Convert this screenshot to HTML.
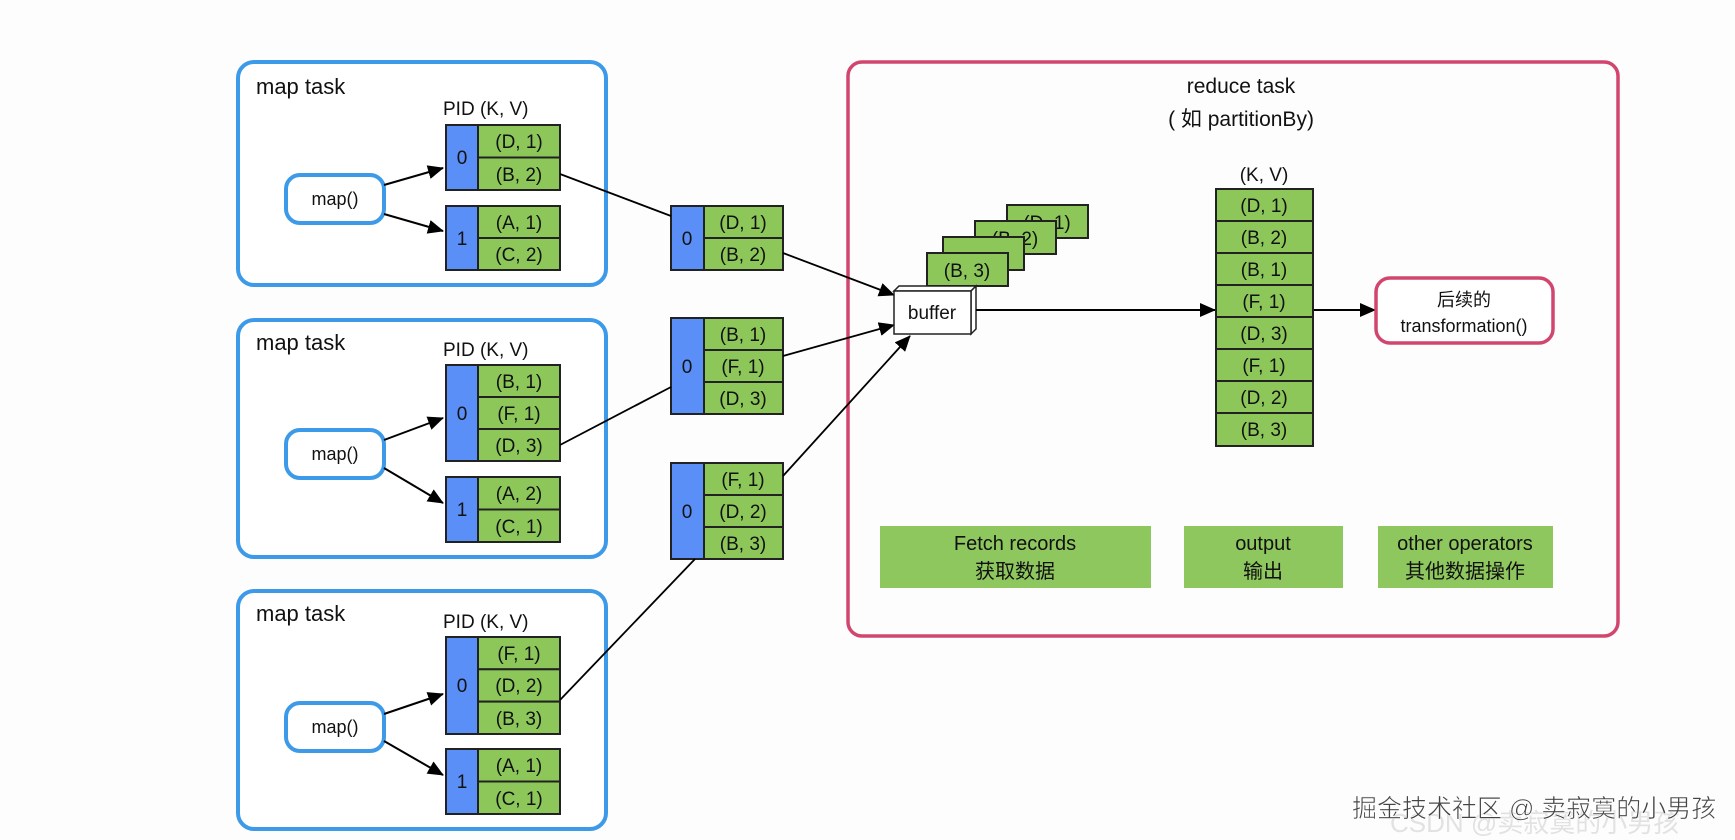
<!DOCTYPE html>
<html><head><meta charset="utf-8"><style>
html,body{margin:0;padding:0;background:#fdfdfd;}
svg{display:block;}
text{font-family:"Liberation Sans","Noto Sans CJK SC",sans-serif;fill:#111;}
</style></head><body>
<svg width="1735" height="840" viewBox="0 0 1735 840" xmlns="http://www.w3.org/2000/svg">
<defs>
<marker id="ah" markerWidth="10" markerHeight="10" refX="9" refY="5" orient="auto" markerUnits="userSpaceOnUse" viewBox="0 0 10 10">
<path d="M0,0 L10,5 L0,10 z" fill="#000"/></marker>
<marker id="ah2" markerWidth="16" markerHeight="14" refX="15" refY="7" orient="auto" markerUnits="userSpaceOnUse" viewBox="0 0 16 14">
<path d="M0,0 L16,7 L0,14 z" fill="#000"/></marker>
</defs>
<rect width="1735" height="840" fill="#fdfdfd"/>

<!-- map task boxes -->
<g fill="#fff" stroke="#3d9ae8" stroke-width="4">
<rect x="238" y="62" width="368" height="223" rx="16"/>
<rect x="238" y="320" width="368" height="237" rx="16"/>
<rect x="238" y="591" width="368" height="238" rx="16"/>
</g>
<g font-size="22">
<text x="256" y="94">map task</text>
<text x="256" y="350">map task</text>
<text x="256" y="621">map task</text>
</g>
<g font-size="19">
<text x="443" y="115">PID  (K, V)</text>
<text x="443" y="356">PID  (K, V)</text>
<text x="443" y="628">PID  (K, V)</text>
</g>
<!-- map() pills -->
<g fill="#fff" stroke="#3d9ae8" stroke-width="4">
<rect x="286" y="175" width="98" height="48" rx="14"/>
<rect x="286" y="430" width="98" height="48" rx="14"/>
<rect x="286" y="703" width="98" height="48" rx="14"/>
</g>
<g font-size="18" text-anchor="middle">
<text x="335" y="205">map()</text>
<text x="335" y="460">map()</text>
<text x="335" y="733">map()</text>
</g>
<!-- map arrows -->
<g stroke="#000" stroke-width="2" marker-end="url(#ah2)">
<line x1="384" y1="185" x2="443" y2="168"/>
<line x1="384" y1="214" x2="443" y2="231"/>
<line x1="384" y1="440" x2="443" y2="418"/>
<line x1="384" y1="468" x2="443" y2="503"/>
<line x1="384" y1="714" x2="443" y2="694"/>
<line x1="384" y1="741" x2="443" y2="775"/>
</g>

<!-- partition blocks -->
<g stroke="#222" stroke-width="2">
<!-- box1 -->
<rect x="446" y="125" width="32" height="65" fill="#5b8ff8"/>
<rect x="478" y="125" width="82" height="32.5" fill="#8dc75a"/>
<rect x="478" y="157.5" width="82" height="32.5" fill="#8dc75a"/>
<rect x="446" y="206" width="32" height="64" fill="#5b8ff8"/>
<rect x="478" y="206" width="82" height="32" fill="#8dc75a"/>
<rect x="478" y="238" width="82" height="32" fill="#8dc75a"/>
<!-- box2 -->
<rect x="446" y="365" width="32" height="96" fill="#5b8ff8"/>
<rect x="478" y="365" width="82" height="32" fill="#8dc75a"/>
<rect x="478" y="397" width="82" height="32" fill="#8dc75a"/>
<rect x="478" y="429" width="82" height="32" fill="#8dc75a"/>
<rect x="446" y="477" width="32" height="65" fill="#5b8ff8"/>
<rect x="478" y="477" width="82" height="32.5" fill="#8dc75a"/>
<rect x="478" y="509.5" width="82" height="32.5" fill="#8dc75a"/>
<!-- box3 -->
<rect x="446" y="637" width="32" height="97" fill="#5b8ff8"/>
<rect x="478" y="637" width="82" height="32.3" fill="#8dc75a"/>
<rect x="478" y="669.3" width="82" height="32.3" fill="#8dc75a"/>
<rect x="478" y="701.6" width="82" height="32.4" fill="#8dc75a"/>
<rect x="446" y="749" width="32" height="65" fill="#5b8ff8"/>
<rect x="478" y="749" width="82" height="32.5" fill="#8dc75a"/>
<rect x="478" y="781.5" width="82" height="32.5" fill="#8dc75a"/>
<!-- middle -->
<rect x="671" y="206" width="33" height="64" fill="#5b8ff8"/>
<rect x="704" y="206" width="79" height="32" fill="#8dc75a"/>
<rect x="704" y="238" width="79" height="32" fill="#8dc75a"/>
<rect x="671" y="318" width="33" height="96" fill="#5b8ff8"/>
<rect x="704" y="318" width="79" height="32" fill="#8dc75a"/>
<rect x="704" y="350" width="79" height="32" fill="#8dc75a"/>
<rect x="704" y="382" width="79" height="32" fill="#8dc75a"/>
<rect x="671" y="463" width="33" height="96" fill="#5b8ff8"/>
<rect x="704" y="463" width="79" height="32" fill="#8dc75a"/>
<rect x="704" y="495" width="79" height="32" fill="#8dc75a"/>
<rect x="704" y="527" width="79" height="32" fill="#8dc75a"/>
</g>
<g font-size="19" text-anchor="middle">
<text x="462" y="164">0</text>
<text x="519" y="148">(D, 1)</text><text x="519" y="181">(B, 2)</text>
<text x="462" y="245">1</text>
<text x="519" y="229">(A, 1)</text><text x="519" y="261">(C, 2)</text>
<text x="462" y="420">0</text>
<text x="519" y="388">(B, 1)</text><text x="519" y="420">(F, 1)</text><text x="519" y="452">(D, 3)</text>
<text x="462" y="516">1</text>
<text x="519" y="500">(A, 2)</text><text x="519" y="533">(C, 1)</text>
<text x="462" y="692">0</text>
<text x="519" y="660">(F, 1)</text><text x="519" y="692">(D, 2)</text><text x="519" y="725">(B, 3)</text>
<text x="462" y="788">1</text>
<text x="519" y="772">(A, 1)</text><text x="519" y="805">(C, 1)</text>
<text x="687" y="245">0</text>
<text x="743" y="229">(D, 1)</text><text x="743" y="261">(B, 2)</text>
<text x="687" y="373">0</text>
<text x="743" y="341">(B, 1)</text><text x="743" y="373">(F, 1)</text><text x="743" y="405">(D, 3)</text>
<text x="687" y="518">0</text>
<text x="743" y="486">(F, 1)</text><text x="743" y="518">(D, 2)</text><text x="743" y="550">(B, 3)</text>
</g>
<!-- connector lines map -> middle -->
<g stroke="#000" stroke-width="1.8" fill="none">
<line x1="560" y1="174" x2="671" y2="216"/>
<line x1="560" y1="445" x2="671" y2="387"/>
<line x1="560" y1="700" x2="695" y2="559"/>
</g>

<!-- reduce task -->
<rect x="848" y="62" width="770" height="574" rx="14" fill="#fdfdfd" stroke="#d1466f" stroke-width="3.5"/>
<g font-size="21" text-anchor="middle">
<text x="1241" y="93">reduce task</text>
<text x="1241" y="126">( 如 partitionBy)</text>
</g>
<!-- middle -> buffer arrows (drawn over reduce box border) -->
<g stroke="#000" stroke-width="1.8" marker-end="url(#ah2)">
<line x1="783" y1="253" x2="894" y2="295"/>
<line x1="783" y1="356" x2="894" y2="325"/>
<line x1="783" y1="476" x2="910" y2="336"/>
</g>
<!-- stacked cards -->
<g stroke="#222" stroke-width="2" fill="#8dc75a">
<rect x="1007" y="205" width="81" height="33"/>
<rect x="975" y="221" width="81" height="33"/>
<rect x="943" y="237" width="81" height="33"/>
<rect x="927" y="253" width="81" height="33"/>
</g>
<g font-size="19" text-anchor="middle">
<text x="1047" y="229">(D, 1)</text>
<text x="1015" y="245">(B, 2)</text>
<text x="967" y="277">(B, 3)</text>
</g>
<!-- redraw to cover partly -->
<g stroke="#222" stroke-width="2" fill="#8dc75a">
<rect x="975" y="221" width="81" height="33"/>
</g>
<text x="1015" y="245" font-size="19" text-anchor="middle">(B, 2)</text>
<g stroke="#222" stroke-width="2" fill="#8dc75a">
<rect x="943" y="237" width="81" height="33"/>
<rect x="927" y="253" width="81" height="33"/>
</g>
<text x="967" y="277" font-size="19" text-anchor="middle">(B, 3)</text>
<!-- buffer 3D box -->
<g stroke="#222" stroke-width="1.5" fill="#fff">
<polygon points="894,291 899,286 976,286 971,291"/>
<polygon points="971,291 976,286 976,329 971,334"/>
<rect x="894" y="291" width="77" height="43"/>
</g>
<text x="932" y="319" font-size="19" text-anchor="middle">buffer</text>
<!-- buffer -> column -->
<g stroke="#000" stroke-width="2" marker-end="url(#ah2)">
<line x1="976" y1="310" x2="1215" y2="310"/>
<line x1="1313" y1="310" x2="1375" y2="310"/>
</g>
<!-- KV column -->
<text x="1264" y="181" font-size="19" text-anchor="middle">(K, V)</text>
<g stroke="#222" stroke-width="2" fill="#8dc75a">
<rect x="1216" y="189" width="97" height="32"/>
<rect x="1216" y="221" width="97" height="32"/>
<rect x="1216" y="253" width="97" height="32"/>
<rect x="1216" y="285" width="97" height="32"/>
<rect x="1216" y="317" width="97" height="32"/>
<rect x="1216" y="349" width="97" height="32"/>
<rect x="1216" y="381" width="97" height="32"/>
<rect x="1216" y="413" width="97" height="33"/>
</g>
<g font-size="19" text-anchor="middle">
<text x="1264" y="212">(D, 1)</text>
<text x="1264" y="244">(B, 2)</text>
<text x="1264" y="276">(B, 1)</text>
<text x="1264" y="308">(F, 1)</text>
<text x="1264" y="340">(D, 3)</text>
<text x="1264" y="372">(F, 1)</text>
<text x="1264" y="404">(D, 2)</text>
<text x="1264" y="436">(B, 3)</text>
</g>
<!-- transformation -->
<rect x="1376" y="278" width="177" height="65" rx="14" fill="#fff" stroke="#d1466f" stroke-width="3.5"/>
<g font-size="18" text-anchor="middle">
<text x="1464" y="306">后续的</text>
<text x="1464" y="332">transformation()</text>
</g>
<!-- green label boxes -->
<g fill="#8fc75f">
<rect x="880" y="526" width="271" height="62"/>
<rect x="1184" y="526" width="159" height="62"/>
<rect x="1378" y="526" width="175" height="62"/>
</g>
<g font-size="20" text-anchor="middle">
<text x="1015" y="550">Fetch records</text>
<text x="1015" y="578">获取数据</text>
<text x="1263" y="550">output</text>
<text x="1263" y="578">输出</text>
<text x="1465" y="550">other operators</text>
<text x="1465" y="578">其他数据操作</text>
</g>
<!-- watermark -->
<text x="1390" y="832" font-size="26" fill="#e6e6e6" style="fill:#e2e2e2">CSDN @卖寂寞的小男孩</text>
<text x="1352" y="817" font-size="25" style="fill:#444;stroke:#fff;stroke-width:0.6">掘金技术社区 @ 卖寂寞的小男孩</text>
</svg>
</body></html>
